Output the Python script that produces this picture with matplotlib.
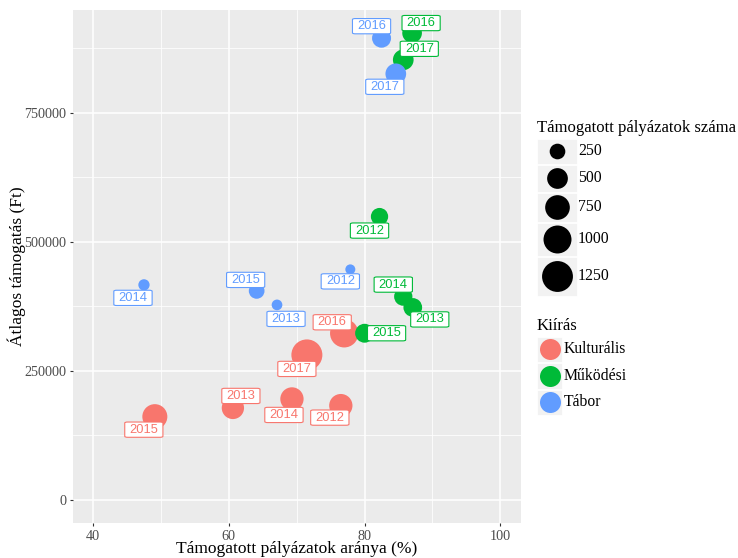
import numpy as np
import matplotlib
matplotlib.use("Agg")
import matplotlib.pyplot as plt
from matplotlib.patches import Rectangle

# ---------------- data ----------------
series = ["Kulturális", "Működési", "Tábor"]
colors = {"Kulturális": "#F8766D", "Működési": "#00BA38", "Tábor": "#619CFF"}

years = [2012, 2013, 2014, 2015, 2016, 2017]

kult_x = [76.5, 60.6, 69.3, 49.1, 77.0, 71.5]
kult_y = [182800, 178300, 195700, 161400, 322900, 281000]
kult_n = [657, 593, 657, 774, 1030, 1260]

mukod_x = [82.2, 87.1, 85.7, 80.0, 87.0, 85.7]
mukod_y = [549000, 373000, 394000, 323000, 904500, 852700]
mukod_n = [322, 390, 370, 400, 440, 497]

tabor_x = [77.9, 67.1, 47.5, 64.1, 82.5, 84.6]
tabor_y = [446700, 377900, 416700, 405000, 894600, 825600]
tabor_n = [74, 90, 105, 253, 405, 497]

size_breaks = [250, 500, 750, 1000, 1250]
x_ticks = [40, 60, 80, 100]
y_ticks = [0, 250000, 500000, 750000]

data = {
    "Kulturális": (kult_x, kult_y, kult_n),
    "Működési": (mukod_x, mukod_y, mukod_n),
    "Tábor": (tabor_x, tabor_y, tabor_n),
}

# label offsets (pixels, right / down) from each point -- layout only
label_offsets = {
    "Kulturális": [(-11, 12), (8, -12), (-8, 16), (-11, 13), (-12, -11), (-10, 14)],
    "Működési": [(-10, 14), (17, 12), (-10, -12), (22, 0), (9, -10), (16, -11)],
    "Tábor": [(-10, 12), (9, 14), (-11, 13), (-11, -11), (-10, -12), (-11, 13)],
}

DPI = 100
PX2PT = 72.0 / DPI


def diam_px(n):
    return 3.3 + 0.78 * np.sqrt(np.asarray(n, dtype=float))


def marker_s(n):
    return (diam_px(n) * PX2PT) ** 2


SERIF = ["Liberation Serif", "DejaVu Serif"]
SANS = ["Liberation Sans", "DejaVu Sans"]

W, H = 738, 558
fig = plt.figure(figsize=(W / DPI, H / DPI), dpi=DPI)
fig.patch.set_facecolor("white")

left, right, top, bottom = 72.7, 520.7, 10.0, 523.3
ax = fig.add_axes([left / W, 1 - bottom / H, (right - left) / W, (bottom - top) / H])
ax.set_facecolor("#EBEBEB")
for sp in ax.spines.values():
    sp.set_visible(False)

ax.set_xlim(37, 103)
ax.set_ylim(-45200, 949200)
ax.set_xticks(x_ticks)
ax.set_yticks(y_ticks)
ax.set_xticks([50, 70, 90], minor=True)
ax.set_yticks([125000, 375000, 625000, 875000], minor=True)
ax.grid(True, which="major", color="white", linewidth=1.1)
ax.grid(True, which="minor", color="white", linewidth=0.55)
ax.set_axisbelow(True)
ax.tick_params(which="major", length=2.5, width=0.8, color="#333333",
               labelsize=10.2, labelcolor="#4D4D4D", pad=2)
ax.tick_params(which="minor", length=0)
for lab in ax.get_xticklabels() + ax.get_yticklabels():
    lab.set_fontfamily(SERIF)

ax.set_xlabel("Támogatott pályázatok aránya (%)", fontsize=12.5, family=SERIF, labelpad=-1)
ax.set_ylabel("Átlagos támogatás (Ft)", fontsize=12.5, family=SERIF, labelpad=-1)

for s in series:
    xs, ys, ns = data[s]
    ax.scatter(xs, ys, s=marker_s(ns), color=colors[s], linewidths=0, zorder=3)

for s in series:
    xs, ys, ns = data[s]
    for i, yr in enumerate(years):
        dx, dy = label_offsets[s][i]
        ax.annotate(str(yr), (xs[i], ys[i]), xytext=(dx * PX2PT, -dy * PX2PT),
                    textcoords="offset points", ha="center", va="center",
                    fontsize=9.3, family=SANS, color=colors[s], zorder=5,
                    bbox=dict(boxstyle="round,pad=0.36,rounding_size=0.22",
                              fc="white", ec=colors[s], lw=0.8, mutation_aspect=0.35))

# ---------------- legends (pixel coordinate overlay) ----------------
lg = fig.add_axes([0, 0, 1, 1], facecolor="none")
lg.set_xlim(0, W)
lg.set_ylim(H, 0)
lg.axis("off")

lg.text(537, 128, "Támogatott pályázatok száma", fontsize=12, family=SERIF,
        ha="left", va="center", color="black")
row_edges = [138, 164, 192, 222, 256, 296]
for i, b in enumerate(size_breaks):
    y0, y1 = row_edges[i], row_edges[i + 1]
    lg.add_patch(Rectangle((537, y0 + 0.5), 40, y1 - y0 - 1, fc="#F2F2F2", ec="white", lw=0.6))
    yc = (y0 + y1) / 2
    lg.scatter([557], [yc], s=marker_s([b]), color="black", linewidths=0)
    lg.text(578, yc, str(b), fontsize=11.3, family=SERIF, ha="left", va="center")

lg.text(537, 326, "Kiírás", fontsize=12, family=SERIF, ha="left", va="center")
c_edges = [336, 362.5, 389, 415.5]
for i, s in enumerate(series):
    y0, y1 = c_edges[i], c_edges[i + 1]
    lg.add_patch(Rectangle((537, y0 + 0.5), 25, y1 - y0 - 1, fc="#F2F2F2", ec="white", lw=0.6))
    yc = (y0 + y1) / 2
    lg.scatter([550], [yc], s=(21 * PX2PT) ** 2, color=colors[s], linewidths=0)
    lg.text(564, yc, s, fontsize=11.3, family=SERIF, ha="left", va="center")

fig.savefig("out.png", dpi=DPI)
